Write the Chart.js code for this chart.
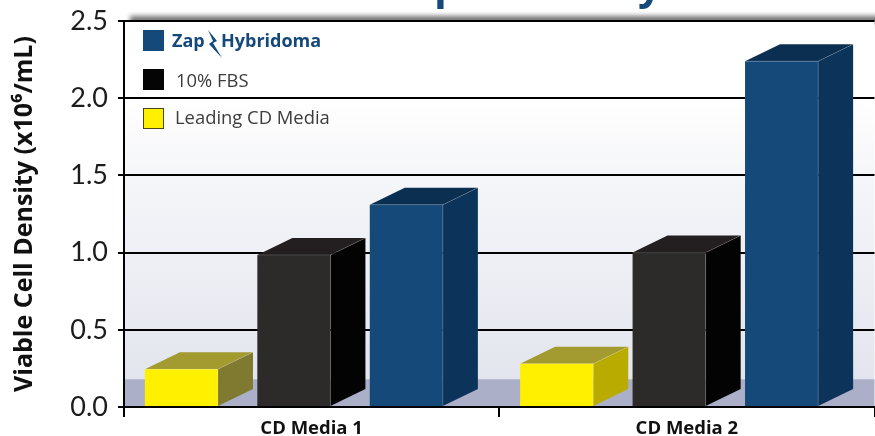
<!DOCTYPE html>
<html>
<head>
<meta charset="utf-8">
<style>html,body{margin:0;padding:0;background:#fff;overflow:hidden}#w{width:875px;height:436px;position:relative}</style>
<script src="https://cdn.jsdelivr.net/npm/chart.js@4/dist/chart.umd.min.js"></script>
</head>
<body>
<div id="w"><canvas id="c" width="875" height="436"></canvas></div>
<script>
const categories = ['CD Media 1', 'CD Media 2'];
const leadingCD = [0.245, 0.28];
const fbs = [0.985, 1.0];
const zap = [1.31, 2.24];
const yTicks = [0, 0.5, 1, 1.5, 2, 2.5];
const seriesNames = ['Leading CD Media', '10% FBS', 'Zap-Hybridoma'];
const axisTitle = 'Viable Cell Density (x10\u2076/mL)';
const floorTop = 0.18;
const frontColors = ['#fff000', '#2c2b29', '#15497a'];
const topColors = ['#a39a30', '#231f20', '#0b2f50'];
const sideColors = [['#7f7a2f', '#b9ab00'], ['#030303', '#030303'], ['#0c3359', '#0c3359']];
const DX = 35, DY = -17, SHIFT = -17.75;

const backdrop = {
  id: 'backdrop',
  beforeDraw(chart) {
    const { ctx, chartArea: a, scales: { y } } = chart;
    ctx.save();
    // cropped headline descenders above the plot
    ctx.fillStyle = '#15497a';
    ctx.font = 'bold 42px "Open Sans"';
    ctx.textBaseline = 'alphabetic';
    ctx.textAlign = 'left';
    ctx.fillText('p', 434, -1);
    ctx.fillText('y', 638, -1);
    // soft shadow above top line
    ctx.save();
    ctx.filter = 'blur(2.5px)';
    ctx.fillStyle = '#707070';
    ctx.fillRect(a.left + 6, a.top - 5, a.width + 10, 8);
    ctx.restore();
    ctx.fillStyle = '#fff';
    ctx.fillRect(0, a.top, a.left, 8);
    // plot gradient
    const f = y.getPixelForValue(floorTop);
    const g = ctx.createLinearGradient(0, y.getPixelForValue(2), 0, f);
    g.addColorStop(0, '#ffffff');
    g.addColorStop(0.12, '#fbfbfc');
    g.addColorStop(0.28, '#f5f6f9');
    g.addColorStop(0.55, '#eff0f5');
    g.addColorStop(1, '#e3e5ee');
    ctx.fillStyle = g;
    ctx.fillRect(a.left, a.top, a.width, f - a.top);
    ctx.fillStyle = '#abb0c8';
    ctx.fillRect(a.left, f, a.width, a.bottom - f);
    ctx.restore();
  }
};

const depth = {
  id: 'depth',
  beforeDatasetsDraw(chart) {
    const ctx = chart.ctx;
    ctx.save();
    ctx.translate(SHIFT, 0);
    chart.data.datasets.forEach((ds, di) => {
      chart.getDatasetMeta(di).data.forEach((b, i) => {
        const l = b.x - b.width / 2, r = b.x + b.width / 2, t = b.y, u = b.base;
        ctx.fillStyle = topColors[di];
        ctx.beginPath();
        ctx.moveTo(l, t); ctx.lineTo(l + DX, t + DY); ctx.lineTo(r + DX, t + DY); ctx.lineTo(r, t);
        ctx.closePath(); ctx.fill();
        ctx.fillStyle = sideColors[di][i];
        ctx.beginPath();
        ctx.moveTo(r, t); ctx.lineTo(r + DX, t + DY); ctx.lineTo(r + DX, u + DY); ctx.lineTo(r, u);
        ctx.closePath(); ctx.fill();
      });
    });
  },
  afterDatasetsDraw(chart) {
    const ctx = chart.ctx;
    ctx.strokeStyle = 'rgba(255,255,255,0.16)';
    ctx.lineWidth = 1;
    chart.data.datasets.forEach((ds, di) => {
      chart.getDatasetMeta(di).data.forEach(b => {
        const r = b.x + b.width / 2, l = b.x - b.width / 2;
        ctx.beginPath();
        ctx.moveTo(l, b.y); ctx.lineTo(r, b.y); ctx.lineTo(r, b.base);
        ctx.moveTo(r, b.y); ctx.lineTo(r + DX, b.y + DY);
        ctx.stroke();
      });
    });
    ctx.restore();
    drawLegend(ctx);
  }
};

function drawLegend(ctx) {
  ctx.save();
  ctx.fillStyle = frontColors[2]; ctx.fillRect(143, 30, 21, 21);
  ctx.fillStyle = '#050505'; ctx.fillRect(143, 69, 21, 21);
  ctx.fillStyle = frontColors[0]; ctx.fillRect(143.5, 108.5, 20, 20);
  ctx.strokeStyle = '#4a4620'; ctx.lineWidth = 1; ctx.strokeRect(143.5, 108.5, 20, 20);
  ctx.textBaseline = 'alphabetic'; ctx.textAlign = 'left';
  ctx.fillStyle = '#3c3c3c';
  ctx.font = '18.4px "Open Sans"';
  ctx.fillText(seriesNames[1], 176, 87);
  ctx.fillText(seriesNames[0], 175, 124);
  ctx.fillStyle = frontColors[2];
  ctx.font = 'bold 18px "Open Sans"';
  const [a, b] = seriesNames[2].split('-');
  ctx.fillText(a, 172, 47);
  ctx.fillText(b, 221, 47);
  // bolt
  ctx.beginPath();
  ctx.moveTo(208, 30); ctx.lineTo(217, 41); ctx.lineTo(213, 43); ctx.lineTo(222, 58);
  ctx.lineTo(209, 44); ctx.lineTo(213, 41); ctx.closePath(); ctx.fill();
  ctx.restore();
}

new Chart(document.getElementById('c'), {
  type: 'bar',
  data: {
    labels: categories,
    datasets: [
      { label: seriesNames[0], data: leadingCD, backgroundColor: frontColors[0] },
      { label: seriesNames[1], data: fbs, backgroundColor: frontColors[1] },
      { label: seriesNames[2], data: zap, backgroundColor: frontColors[2] }
    ]
  },
  plugins: [backdrop, depth],
  options: {
    responsive: false,
    animation: false,
    layout: { padding: { top: 21, right: 0.5, bottom: 0, left: 0 } },
    datasets: { bar: { categoryPercentage: 0.899, barPercentage: 0.65, borderWidth: 0 } },
    plugins: { legend: { display: false }, tooltip: { enabled: false } },
    scales: {
      x: {
        afterFit(s) { s.height = 29; s.paddingLeft = 0; s.paddingRight = 0; },
        border: { color: '#000', width: 2 },
        grid: { offset: true, drawOnChartArea: false, drawTicks: true, tickLength: 10, color: '#000', lineWidth: 2 },
        ticks: { color: '#111', font: { family: '"Open Sans"', size: 18.5, weight: 'bold' }, padding: 1, maxRotation: 0 }
      },
      y: {
        min: 0, max: 2.5,
        afterFit(s) { s.width = 124; s.paddingTop = 0; s.paddingBottom = 0; },
        afterBuildTicks(s) { s.ticks = yTicks.map(v => ({ value: v })); },
        border: { color: '#000', width: 2 },
        grid: { color: '#000', lineWidth: 2, tickLength: 6 },
        title: { display: true, text: axisTitle, color: '#111', padding: { top: 10, bottom: 0 }, font: { family: '"Open Sans"', size: 25, weight: 'bold' } },
        ticks: { color: '#1c1c1c', padding: 10, callback: v => Number(v).toFixed(1), font: { family: 'Lato', size: 27, weight: '400' } }
      }
    }
  }
});
</script>
</body>
</html>
